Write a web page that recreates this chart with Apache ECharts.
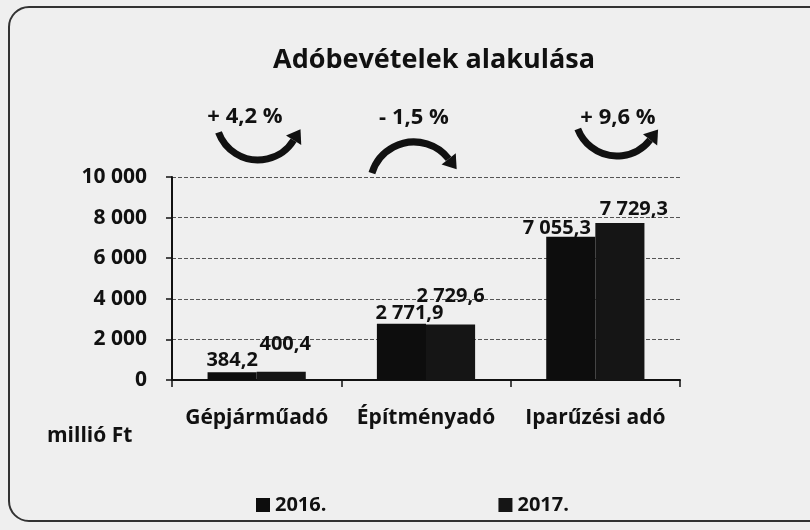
<!DOCTYPE html>
<html>
<head>
<meta charset="utf-8">
<script src="https://cdn.jsdelivr.net/npm/echarts@6/dist/echarts.min.js"></script>
<style>
html,body{margin:0;padding:0;background:#efefef;}
#c{width:810px;height:530px;}
</style>
</head>
<body>
<div id="c"></div>
<script>
var categories = ['Gépjárműadó', 'Építményadó', 'Iparűzési adó'];
var seriesNames = ['2016.', '2017.'];
var values2016 = [384.2, 2771.9, 7055.3];
var values2017 = [400.4, 2729.6, 7729.3];
var changeLabels = ['+ 4,2 %', '- 1,5 %', '+ 9,6 %'];
var yTicks = [0, 2000, 4000, 6000, 8000, 10000];

var FONT = '"Open Sans", Lato, sans-serif';

function fmt(v, dec) {
  var s = v.toFixed(dec);
  var parts = s.split('.');
  var ip = parts[0].replace(/\B(?=(\d{3})+(?!\d))/g, ' ');
  return parts.length > 1 ? ip + ',' + parts[1] : ip;
}

// label offsets (styling only)
var off2016 = [[0, 0], [8, 2], [-14, 4]];
var off2017 = [[4, -16], [0, -16], [14, -2]];

function buildData(vals, offs) {
  return vals.map(function (v, i) {
    return { value: v, label: { offset: offs[i] } };
  });
}

function arrow(cx, cy, r, aTail, aHead) {
  var d2r = Math.PI / 180;
  var t = aTail * d2r, h = aHead * d2r;
  var sign = aHead > aTail ? 1 : -1;
  var px = cx + r * Math.cos(h), py = cy + r * Math.sin(h);
  var dx = sign * -Math.sin(h), dy = sign * Math.cos(h);
  var nx = Math.cos(h), ny = Math.sin(h);
  var L = 13, W = 9;
  return [
    { type: 'arc', shape: { cx: cx, cy: cy, r: r, startAngle: Math.min(t, h), endAngle: Math.max(t, h), clockwise: true },
      style: { stroke: '#111', lineWidth: 7, fill: null } },
    { type: 'polygon', shape: { points: [[px + dx * L, py + dy * L], [px + nx * W, py + ny * W], [px - nx * W, py - ny * W]] },
      style: { fill: '#111' } }
  ];
}

var pctFont = 'bold 22px ' + FONT;
var graphics = [
  { type: 'rect', shape: { x: 9, y: 7, width: 830, height: 514, r: 20 }, style: { fill: null, stroke: '#333', lineWidth: 2 } },
  { type: 'text', x: 245, y: 117, style: { text: changeLabels[0], font: pctFont, fill: '#111', align: 'center', verticalAlign: 'middle' } },
  { type: 'text', x: 414, y: 118, style: { text: changeLabels[1], font: pctFont, fill: '#111', align: 'center', verticalAlign: 'middle' } },
  { type: 'text', x: 618, y: 118, style: { text: changeLabels[2], font: pctFont, fill: '#111', align: 'center', verticalAlign: 'middle' } },
  { type: 'text', x: 47, y: 436, style: { text: 'millió Ft', font: 'bold 21px ' + FONT, fill: '#111', verticalAlign: 'middle' } }
];
graphics = graphics.concat(arrow(258, 118, 42, 160, 32))
  .concat(arrow(414, 186, 44, 197, 322))
  .concat(arrow(617, 114, 42, 159, 38));

var chart = echarts.init(document.getElementById('c'));
chart.setOption({
  backgroundColor: '#efefef',
  animation: false,
  title: {
    text: 'Adóbevételek alakulása',
    left: 268, top: 42,
    textStyle: { fontFamily: FONT, fontSize: 27, fontWeight: 'bold', color: '#111' }
  },
  grid: { left: 172, right: 130, top: 177, bottom: 150 },
  legend: {
    left: 251, top: 490,
    itemWidth: 14, itemHeight: 14, itemGap: 172,
    icon: 'rect',
    textStyle: { fontFamily: FONT, fontSize: 20, fontWeight: 'bold', color: '#111' },
    data: seriesNames
  },
  xAxis: {
    type: 'category',
    data: categories,
    axisLine: { lineStyle: { color: '#111', width: 2 } },
    axisTick: { show: true, length: 7, lineStyle: { color: '#111', width: 1.5 } },
    axisLabel: { interval: 0, hideOverlap: false, margin: 28, fontFamily: FONT, fontSize: 21, fontWeight: 'bold', color: '#111' }
  },
  yAxis: {
    type: 'value', min: 0, max: 10000, interval: 2000,
    axisLine: { show: true, lineStyle: { color: '#111', width: 2 } },
    axisTick: { show: true, length: 6, lineStyle: { color: '#111', width: 1.5 } },
    splitLine: { lineStyle: { color: '#555', type: 'dashed', width: 1 } },
    axisLabel: {
      margin: 25, fontFamily: FONT, fontSize: 21, fontWeight: 'bold', color: '#111',
      formatter: function (v) { return yTicks.indexOf(v) >= 0 ? fmt(v, 0) : ''; }
    }
  },
  series: [
    {
      name: seriesNames[0], type: 'bar', data: buildData(values2016, off2016),
      barGap: '0%', barCategoryGap: '42%',
      itemStyle: { color: '#0d0d0d' },
      label: { show: true, position: 'top', distance: 2, fontFamily: FONT, fontSize: 20, fontWeight: 'bold', color: '#111',
        formatter: function (p) { return fmt(p.value, 1); } }
    },
    {
      name: seriesNames[1], type: 'bar', data: buildData(values2017, off2017),
      barGap: '0%', barCategoryGap: '42%',
      itemStyle: { color: '#151515' },
      label: { show: true, position: 'top', distance: 2, fontFamily: FONT, fontSize: 20, fontWeight: 'bold', color: '#111',
        formatter: function (p) { return fmt(p.value, 1); } }
    }
  ],
  graphic: graphics
});
</script>
</body>
</html>
